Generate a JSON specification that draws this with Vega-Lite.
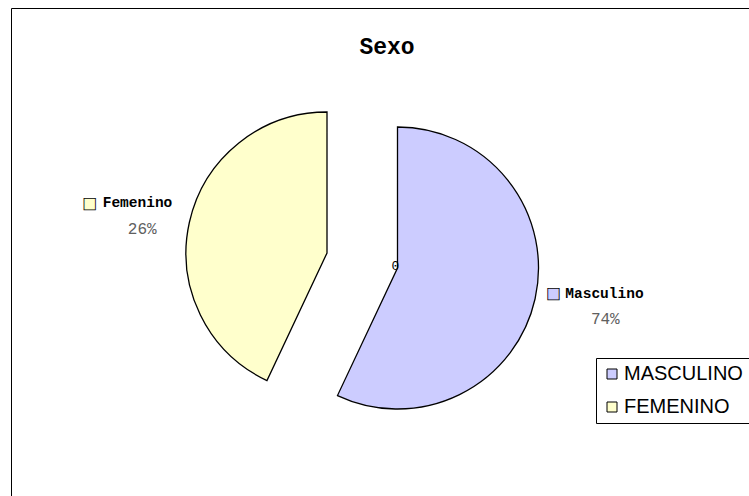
{
  "$schema": "https://vega.github.io/schema/vega-lite/v6.json",
  "width": 749,
  "height": 496,
  "autosize": {"type": "fit", "contains": "padding"},
  "padding": {"left": 11, "top": 8, "right": 0, "bottom": 0},
  "background": "white",
  "view": {"stroke": "black", "strokeWidth": 1, "fill": "white"},
  "title": {
    "text": "Sexo",
    "font": "Liberation Mono",
    "fontSize": 23,
    "fontWeight": "bold",
    "color": "black",
    "anchor": "middle",
    "frame": "group",
    "offset": -28,
    "baseline": "top",
    "dx": 7,
    "dy": 23
  },
  "data": {
    "values": [
      {"sexo": "MASCULINO", "etiqueta": "Masculino", "sector": 57, "porcentaje": 0.74},
      {"sexo": "FEMENINO", "etiqueta": "Femenino", "sector": 43, "porcentaje": 0.26}
    ]
  },
  "layer": [
    {
      "mark": {"type": "arc", "outerRadius": 141, "stroke": "black", "strokeWidth": 1.3, "xOffset": 17.5, "yOffset": 16},
      "encoding": {
        "theta": {"field": "sector", "type": "quantitative", "stack": true},
        "order": {"field": "sexo", "sort": "descending"},
        "color": {
          "field": "sexo", "type": "nominal",
          "scale": {"domain": ["MASCULINO", "FEMENINO"], "range": ["#CCCCFF", "#FFFFCC"]},
          "legend": {
            "title": null, "orient": "none", "legendX": 585, "legendY": 350,
            "strokeColor": "black", "fillColor": "white", "padding": 6,
            "symbolType": "square", "symbolSize": 100, "symbolStrokeColor": "black",
            "symbolStrokeWidth": 1, "symbolOpacity": 1,
            "labelFont": "Liberation Sans", "labelFontSize": 20, "labelColor": "black",
            "rowPadding": 13, "labelOffset": 2, "cornerRadius": 0
          }
        },
        "opacity": {"condition": {"test": "datum.sexo === 'MASCULINO'", "value": 1}, "value": 0}
      }
    },
    {
      "mark": {"type": "arc", "outerRadius": 141, "stroke": "black", "strokeWidth": 1.3, "xOffset": -53, "yOffset": 1},
      "encoding": {
        "theta": {"field": "sector", "type": "quantitative", "stack": true},
        "order": {"field": "sexo", "sort": "descending"},
        "color": {"field": "sexo", "type": "nominal"},
        "opacity": {"condition": {"test": "datum.sexo === 'FEMENINO'", "value": 1}, "value": 0}
      }
    },
    {
      "mark": {"type": "text", "radius": 195, "text": "■", "font": "DejaVu Sans", "fontSize": 15, "fill": "#CCCCFF", "stroke": "black", "strokeWidth": 0.8, "align": "center", "baseline": "middle", "xOffset": 17.5, "yOffset": 16, "dx": -34.5, "dy": -17.5},
      "encoding": {
        "theta": {"field": "sector", "type": "quantitative", "stack": true},
        "order": {"field": "sexo", "sort": "descending"},
        "opacity": {"condition": {"test": "datum.sexo === 'MASCULINO'", "value": 1}, "value": 0}
      }
    },
    {
      "mark": {"type": "text", "radius": 195, "font": "Liberation Mono", "fontSize": 14.5, "fontWeight": "bold", "fill": "black", "align": "left", "baseline": "middle", "xOffset": 17.5, "yOffset": 16, "dx": -22.5, "dy": -17},
      "encoding": {
        "theta": {"field": "sector", "type": "quantitative", "stack": true},
        "order": {"field": "sexo", "sort": "descending"},
        "text": {"field": "etiqueta"},
        "opacity": {"condition": {"test": "datum.sexo === 'MASCULINO'", "value": 1}, "value": 0}
      }
    },
    {
      "mark": {"type": "text", "radius": 195, "font": "Liberation Mono", "fontSize": 16, "fill": "#606060", "align": "center", "baseline": "middle", "xOffset": 17.5, "yOffset": 16, "dx": 17.5, "dy": 8.5},
      "encoding": {
        "theta": {"field": "sector", "type": "quantitative", "stack": true},
        "order": {"field": "sexo", "sort": "descending"},
        "text": {"field": "porcentaje", "type": "quantitative", "format": ".0%"},
        "opacity": {"condition": {"test": "datum.sexo === 'MASCULINO'", "value": 1}, "value": 0}
      }
    },
    {
      "mark": {"type": "text", "radius": 195, "text": "■", "font": "DejaVu Sans", "fontSize": 15, "fill": "#FFFFCC", "stroke": "black", "strokeWidth": 0.8, "align": "center", "baseline": "middle", "xOffset": -53, "yOffset": 1, "dx": -47, "dy": -7.5},
      "encoding": {
        "theta": {"field": "sector", "type": "quantitative", "stack": true},
        "order": {"field": "sexo", "sort": "descending"},
        "opacity": {"condition": {"test": "datum.sexo === 'FEMENINO'", "value": 1}, "value": 0}
      }
    },
    {
      "mark": {"type": "text", "radius": 195, "font": "Liberation Mono", "fontSize": 14.5, "fontWeight": "bold", "fill": "black", "align": "left", "baseline": "middle", "xOffset": -53, "yOffset": 1, "dx": -34, "dy": -7},
      "encoding": {
        "theta": {"field": "sector", "type": "quantitative", "stack": true},
        "order": {"field": "sexo", "sort": "descending"},
        "text": {"field": "etiqueta"},
        "opacity": {"condition": {"test": "datum.sexo === 'FEMENINO'", "value": 1}, "value": 0}
      }
    },
    {
      "mark": {"type": "text", "radius": 195, "font": "Liberation Mono", "fontSize": 16, "fill": "#606060", "align": "center", "baseline": "middle", "xOffset": -53, "yOffset": 1, "dx": 5.5, "dy": 18.5},
      "encoding": {
        "theta": {"field": "sector", "type": "quantitative", "stack": true},
        "order": {"field": "sexo", "sort": "descending"},
        "text": {"field": "porcentaje", "type": "quantitative", "format": ".0%"},
        "opacity": {"condition": {"test": "datum.sexo === 'FEMENINO'", "value": 1}, "value": 0}
      }
    },
    {
      "data": {"values": [{"valor": 0}]},
      "mark": {"type": "text", "font": "Liberation Mono", "fontSize": 13, "fill": "black", "align": "center", "baseline": "middle", "xOffset": 15.5, "yOffset": 14},
      "encoding": {
        "text": {"field": "valor", "type": "quantitative"}
      }
    }
  ]
}
